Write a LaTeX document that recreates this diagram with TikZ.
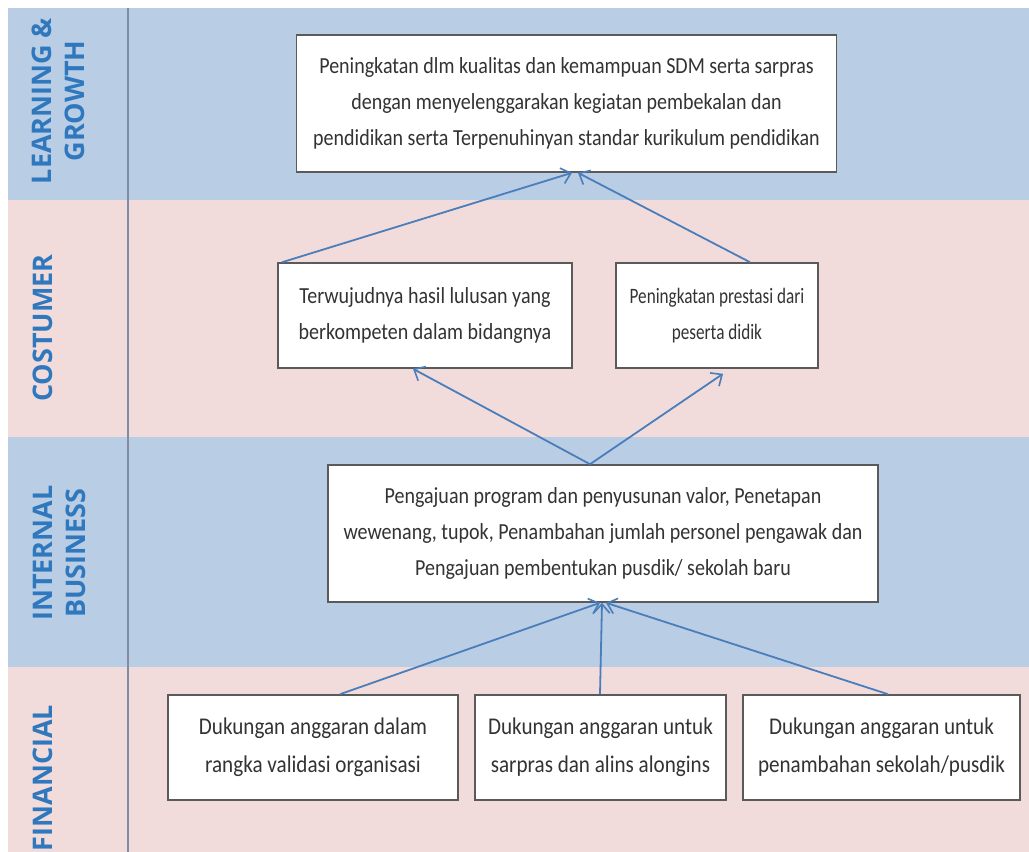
\documentclass[tikz,border=0pt]{standalone}
\usepackage{fontspec}
\setmainfont{Carlito}
\newfontfamily\boxfont{Carlito}[FakeStretch=0.87]
\newfontfamily\narrowfont{Carlito}[FakeStretch=0.78]
\newfontfamily\finfont{Carlito}[FakeStretch=0.88]
\newfontfamily\labelfont{Open Sans}
\usetikzlibrary{arrows.meta,calc}
\definecolor{bandblue}{HTML}{B9CDE5}
\definecolor{bandpink}{HTML}{F2DCDB}
\definecolor{labblue}{HTML}{2F78BE}
\definecolor{arrblue}{HTML}{4A7EBB}
\definecolor{boxline}{HTML}{5A5A5A}
\definecolor{sepline}{HTML}{7F8CA3}
\begin{document}
\begin{tikzpicture}[x=1pt,y=-1pt,
  box/.style={draw=boxline,line width=1.6pt,fill=white,inner sep=0pt,align=center,
    text=black!80,font=\boxfont\fontsize{23}{36}\selectfont},
  narrowbox/.style={box,font=\narrowfont\fontsize{22}{36}\selectfont},
  finbox/.style={box,font=\finfont\fontsize{24}{38}\selectfont},
  lab/.style={rotate=90,align=center,text=labblue,font=\labelfont\bfseries\fontsize{27}{33}\selectfont},
  conn/.style={draw=arrblue,line width=1.8pt,-{Straight Barb[length=9pt,width=16pt,line width=1.6pt]}}]
\useasboundingbox (0,0) rectangle (1029,852);
\fill[white] (0,0) rectangle (1029,852);
% bands
\fill[bandblue] (8,8) rectangle (1029,200);
\fill[bandpink] (8,200) rectangle (1029,437);
\fill[bandblue] (8,437) rectangle (1029,667);
\fill[bandpink] (8,667) rectangle (1029,852);
\draw[sepline,line width=1.4pt] (128,8) -- (128,852);
% labels
\node[lab] (lg) at (58,101) {LEARNING \&\\GROWTH};
\node[lab] (cu) at (43,328) {COSTUMER};
\node[lab] (ib) at (59,553) {INTERNAL\\BUSINESS};
\node[lab] (fi) at (43,778) {FINANCIAL};
% boxes
\node[box,minimum width=540pt,minimum height=137pt] (top) at (566.5,103.5)
  {Peningkatan dlm kualitas dan kemampuan SDM serta sarpras\\dengan menyelenggarakan kegiatan pembekalan dan\\pendidikan serta Terpenuhinyan standar kurikulum pendidikan};
\node[box,minimum width=294pt,minimum height=105pt] (c1) at (425,315.5)
  {Terwujudnya hasil lulusan yang\\berkompeten dalam bidangnya};
\node[narrowbox,minimum width=202pt,minimum height=105pt] (c2) at (717,315.5)
  {Peningkatan prestasi dari\\peserta didik};
\node[box,minimum width=550pt,minimum height=137pt] (ib1) at (603,533.5)
  {Pengajuan program dan penyusunan valor, Penetapan\\wewenang, tupok, Penambahan jumlah personel pengawak dan\\Pengajuan pembentukan pusdik/ sekolah baru};
\node[finbox,minimum width=290pt,minimum height=105pt] (f1) at (313,747.5)
  {Dukungan anggaran dalam\\rangka validasi organisasi};
\node[finbox,minimum width=251pt,minimum height=105pt] (f2) at (600.5,747.5)
  {Dukungan anggaran untuk\\sarpras dan alins alongins};
\node[finbox,minimum width=277pt,minimum height=105pt] (f3) at (881.5,747.5)
  {Dukungan anggaran untuk\\penambahan sekolah/pusdik};
% connectors
\draw[conn] ([xshift=5pt]c1.north west) -- ([xshift=5.5pt]top.south);
\draw[conn] ([xshift=33pt]c2.north) -- ([xshift=11.5pt]top.south);
\draw[conn] ([xshift=-13pt]ib1.north) -- ([xshift=-12pt]c1.south);
\draw[conn] ([xshift=-13pt]ib1.north) -- ([xshift=6pt,yshift=-5pt]c2.south);
\draw[conn] ([xshift=27pt]f1.north) -- ([xshift=-3pt]ib1.south);
\draw[conn] ([xshift=-0.5pt]f2.north) -- ([xshift=-1pt]ib1.south);
\draw[conn] ([xshift=6.5pt]f3.north) -- ([xshift=3pt]ib1.south);
\end{tikzpicture}
\end{document}
